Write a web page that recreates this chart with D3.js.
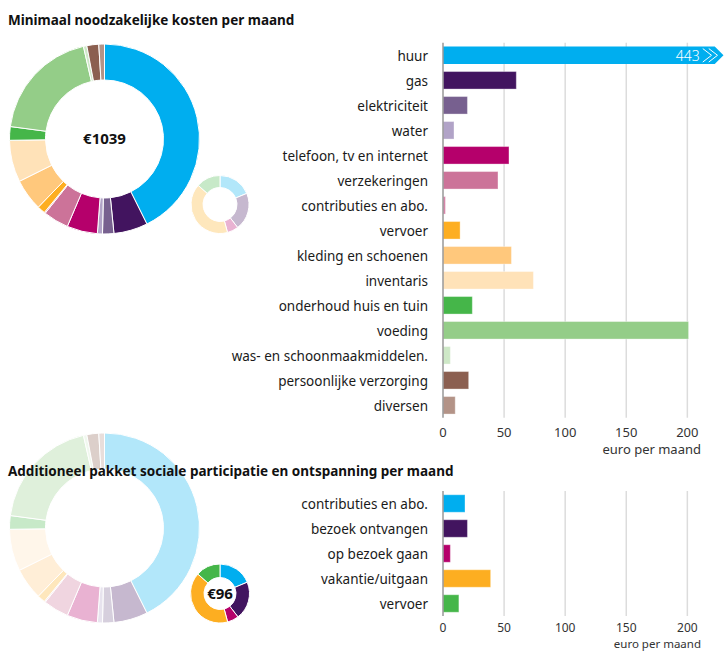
<!DOCTYPE html>
<html><head><meta charset="utf-8">
<script src="https://cdn.jsdelivr.net/npm/d3@7"></script>
<style>
body{margin:0;background:#fff;}
text{font-family:"Noto Sans",sans-serif;}
</style></head>
<body><svg id="c" width="724" height="652"></svg>
<script>
const costCategories = ["huur","gas","elektriciteit","water","telefoon, tv en internet","verzekeringen","contributies en abo.","vervoer","kleding en schoenen","inventaris","onderhoud huis en tuin","voeding","was- en schoonmaakmiddelen.","persoonlijke verzorging","diversen"];
const costValues = [443,60,20,9,54,45,2,14,56,74,24,201,6,21,10];
const costColors = ["#00aeef","#42145f","#77608f","#b1a3c7","#b5006b","#cc7399","#d684a8","#fdae21","#ffc87c","#ffe2b8","#45b649","#94cd88","#cee8c7","#8b5f50","#b39387"];
const extraCategories = ["contributies en abo.","bezoek ontvangen","op bezoek gaan","vakantie/uitgaan","vervoer"];
const extraValues = [18,20,6,39,13];
const extraColors = ["#00aeef","#42145f","#b5006b","#fdae21","#45b649"];
const tickValues = [0,50,100,150,200];
const titles = ["Minimaal noodzakelijke kosten per maand","Additioneel pakket sociale participatie en ontspanning per maand"];
const axisLabel = "euro per maand";

const svg = d3.select("#c");
const x = d3.scaleLinear().domain([0,230]).range([443,724]);
const xmax = 230;

function donut(g, values, colors, cx, cy, rIn, rOut, opacity){
  const pie = d3.pie().sort(null).value(d=>d)(values);
  const arc = d3.arc().innerRadius(rIn).outerRadius(rOut);
  g.append("g").attr("transform",`translate(${cx},${cy})`)
    .selectAll("path").data(pie).join("path")
    .attr("d",arc).attr("fill",(d,i)=>colors[i]).attr("fill-opacity",opacity)
    .attr("stroke","#fff").attr("stroke-width",1);
}

function bars(g, cats, vals, colors, y0, y1, tickY, labelY, fs, lfs){
  const y = d3.scaleBand().domain(cats.map((c,i)=>i)).range([y0,y1]).paddingInner(0.3).paddingOuter(0.15);
  g.append("g").selectAll("line").data(tickValues.slice(1)).join("line")
    .attr("x1",d=>x(d)).attr("x2",d=>x(d)).attr("y1",y0).attr("y2",y1)
    .attr("stroke","#dcdcdc").attr("stroke-width",1.5);
  const bw = y.bandwidth();
  vals.forEach((v,i)=>{
    const yy = y(i);
    if(v>xmax){
      const xe = x(xmax)-0.5, d = bw/2;
      g.append("path").attr("d",`M${x(0)},${yy}L${xe-d},${yy}L${xe},${yy+d}L${xe-d},${yy+bw}L${x(0)},${yy+bw}Z`).attr("fill",colors[i]);
      [5,11].forEach(o=>{
        g.append("path").attr("d",`M${xe-d-o-1},${yy+2}L${xe-o-1},${yy+d}L${xe-d-o-1},${yy+bw-2}`)
          .attr("fill","none").attr("stroke","#fff").attr("stroke-width",1);
      });
      g.append("text").attr("x",xe-d-15).attr("y",yy+d).attr("dy","0.38em").attr("text-anchor","end")
        .attr("fill","#fff").attr("font-size",14).attr("font-weight",300).text(v);
    } else {
      g.append("rect").attr("x",x(0)).attr("y",yy).attr("width",x(v)-x(0)).attr("height",bw)
        .attr("fill",colors[i]).attr("stroke","#fff").attr("stroke-opacity",0.35).attr("stroke-width",1);
    }
    g.append("text").attr("x",428).attr("y",yy+bw/2).attr("dy","0.42em").attr("text-anchor","end")
      .attr("fill","#1a1a1a").attr("font-size",13.5).text(cats[i]);
  });
  g.append("line").attr("x1",x(0)).attr("x2",x(0)).attr("y1",y0).attr("y2",y1).attr("stroke","#999").attr("stroke-width",1.5);
  g.append("g").selectAll("text").data(tickValues).join("text")
    .attr("x",d=>x(d)).attr("y",tickY).attr("dy","0.36em").attr("text-anchor","middle")
    .attr("fill","#333").attr("font-size",fs).text(d=>d);
  g.append("text").attr("x",701).attr("y",labelY).attr("dy","0.36em").attr("text-anchor","end")
    .attr("fill","#333").attr("font-size",lfs).text(axisLabel);
}

const gTop = svg.append("g");
donut(gTop, costValues, costColors, 104.5, 139, 59, 95, 1);
donut(gTop, extraValues, extraColors, 220, 204.5, 17, 29, 0.3);
gTop.append("text").attr("x",104.5).attr("y",139).attr("dy","0.36em").attr("text-anchor","middle")
  .attr("font-weight",700).attr("font-size",15).attr("fill","#111").text("€" + d3.sum(costValues));
bars(gTop, costCategories, costValues, costColors, 42.8, 417.8, 432, 449, 13, 13);
gTop.append("text").attr("x",8).attr("y",20).attr("dy","0.36em").attr("font-weight",700).attr("font-size",13.5).attr("fill","#111").text(titles[0]);

const gBot = svg.append("g");
donut(gBot, costValues, costColors, 104.5, 528, 59, 95, 0.3);
donut(gBot, extraValues, extraColors, 220, 593.5, 16, 29.5, 1);
gBot.append("circle").attr("cx",220).attr("cy",593.5).attr("r",15.5).attr("fill","#fff");
gBot.append("text").attr("x",220).attr("y",593.5).attr("dy","0.36em").attr("text-anchor","middle")
  .attr("font-weight",700).attr("font-size",15).attr("fill","#111").text("€" + d3.sum(extraValues));
bars(gBot, extraCategories, extraValues, extraColors, 491, 616, 628, 644, 12, 11.5);
gBot.append("text").attr("x",8).attr("y",471).attr("dy","0.36em").attr("font-weight",700).attr("font-size",13.5).attr("fill","#111").text(titles[1]);
</script></body></html>
